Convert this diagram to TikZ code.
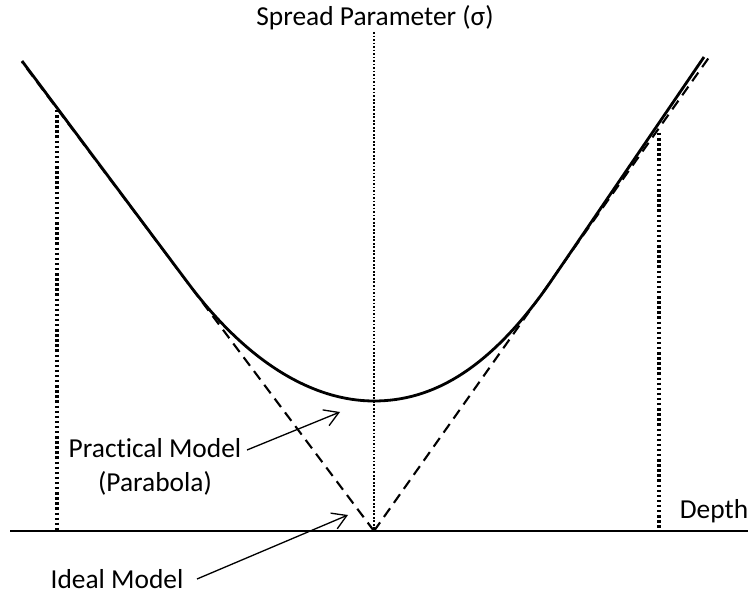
\documentclass[tikz,border=0pt]{standalone}
\usepackage{fontspec}
\setmainfont{Carlito}[Ligatures=CommonOff]
\usetikzlibrary{arrows.meta,positioning}

\begin{document}
\begin{tikzpicture}[
    x=0.02cm, y=-0.02cm,
    font=\fontsize{15.6}{19}\selectfont,
    curve/.style={line width=1.6pt, line join=round},
    asym/.style={line width=1.2pt, dash pattern=on 6pt off 3.8pt},
    guide/.style={line width=1.8pt, dash pattern=on 1.4pt off 1.5pt},
    centerguide/.style={line width=1.1pt, dash pattern=on 1pt off 1pt},
    axisline/.style={line width=1.3pt},
    arrow/.style={-{Straight Barb[length=2.8mm,width=3.4mm]}, line width=0.75pt}
]
\useasboundingbox (0,0) rectangle (748,594);

% key points
\coordinate (o) at (374,531);
\coordinate (vtx) at (374,401);
\coordinate (ltop) at (22,61);
\coordinate (rtop) at (704,57);
\coordinate (ltan) at (188,283);
\coordinate (rtan) at (547,287);

% labels
\node (spread) at (375,18) {Spread Parameter (σ)};
\node (depth) at (714,511) {Depth};
\node[align=center] (practical) at (155,467) {Practical Model\\(Parabola)};
\node (ideal) at (117,579) {Ideal Model};

% axis and guides
\draw[axisline] (10,531) -- (748,531);
\draw[centerguide] (374,32) -- (o);
\draw[guide] (57,110) -- (57,531);
\draw[guide] (659,133) -- (659,531);

% ideal model
\draw[asym] (o) -- (22,62);
\draw[asym] (o) -- (710,56);

% practical model
\draw[curve] (ltop) -- (ltan)
    .. controls (250,366) and (316,401) .. (vtx)
    .. controls (432,401) and (488,370) .. (rtan) -- (rtop);

% arrows
\draw[arrow] (247,450) -- (340,412);
\draw[arrow] (197,579) -- (348,515);
\end{tikzpicture}
\end{document}
